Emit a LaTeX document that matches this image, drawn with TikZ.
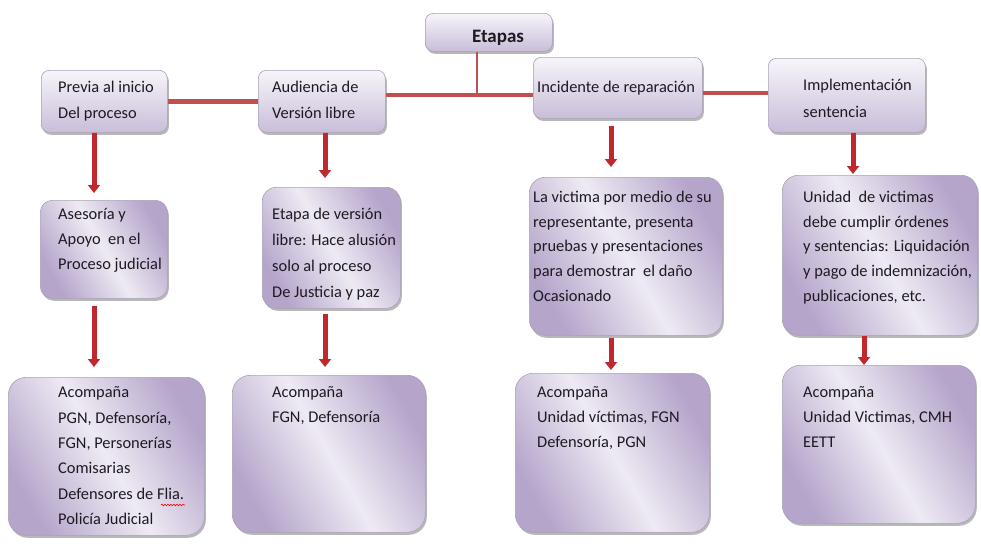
\documentclass[tikz,border=0pt]{standalone}
\usepackage{fontspec}
\setmainfont{Carlito}
\usetikzlibrary{shadows,arrows.meta,decorations.pathmorphing}
\definecolor{linkred}{HTML}{C0504D}
\definecolor{arrowred}{HTML}{C0282D}
\definecolor{lavtop}{HTML}{F7F5FA}
\definecolor{lavbot}{HTML}{C9BDD9}
\definecolor{lavdark}{HTML}{B5A5CB}
\definecolor{lavlight}{HTML}{EEEAF3}
\definecolor{boxline}{HTML}{A9A1B6}
\definecolor{ink}{HTML}{1E1A22}

\begin{document}
\begin{tikzpicture}[x=1pt,y=-1pt,
  box/.style={draw=boxline, line width=0.6pt, inner sep=0pt, anchor=north west,
    drop shadow={shadow xshift=1.5pt, shadow yshift=-2.5pt, fill=black, opacity=0.28}},
  stage/.style={box, rounded corners=8pt, top color=lavtop, bottom color=lavbot},
  detail/.style={box, rounded corners=16pt, left color=lavdark, right color=lavdark,
    middle color=lavlight, shading angle=120},
  txt/.style={anchor=north west, inner sep=0pt, align=left, yshift=18.2pt, text=ink,
    font=\fontsize{16.4}{#1}\selectfont},
  txt/.default=25.5,
  link/.style={draw=linkred, line width=4.5pt},
  thinlink/.style={draw=linkred, line width=2pt},
  arr/.style={draw=arrowred, line width=5pt, -{Triangle[width=12pt,length=8pt]}}
]
\useasboundingbox (0,0) rectangle (981,546);

% ---- stage boxes (top row) ----
\node[stage, minimum width=127pt, minimum height=38pt] (etapas) at (425,13) {};
\node[stage, minimum width=126pt, minimum height=62pt] (prev) at (41,70) {};
\node[stage, minimum width=127pt, minimum height=62pt] (aud) at (258,70) {};
\node[stage, minimum width=169pt, minimum height=61pt] (inc) at (533,57) {};
\node[stage, minimum width=157pt, minimum height=74pt] (impl) at (768,58) {};

% ---- description boxes ----
\node[detail, rounded corners=12pt, minimum width=127pt, minimum height=98pt] (ase) at (40,200) {};
\node[detail, rounded corners=14pt, minimum width=138pt, minimum height=121pt] (ver) at (262,187) {};
\node[detail, minimum width=193pt, minimum height=158pt] (vic) at (529,177) {};
\node[detail, minimum width=195pt, minimum height=160pt] (uni) at (782,175) {};

% ---- "Acompaña" boxes ----
\node[detail, rounded corners=18pt, minimum width=196pt, minimum height=158pt] (ac1) at (8,377) {};
\node[detail, rounded corners=18pt, minimum width=193pt, minimum height=157pt] (ac2) at (232,375) {};
\node[detail, rounded corners=18pt, minimum width=194pt, minimum height=159pt] (ac3) at (515,373) {};
\node[detail, rounded corners=18pt, minimum width=193pt, minimum height=158pt] (ac4) at (782,365) {};

% ---- texts ----
\node[anchor=base, inner sep=0pt, text=ink, font=\fontsize{19}{22}\selectfont\bfseries] (tet) at (498,42) {Etapas};
\node[txt=26] (t1) at (58,92) {\strut Previa al inicio\\Del proceso};
\node[txt=26] (t2) at (272,92) {\strut Audiencia de\\Versión libre};
\node[txt=26] (t3) at (537,92) {\strut Incidente de reparación};
\node[txt=27] (t4) at (803,90) {\strut Implementación\\sentencia};
\node[txt=25] (t5) at (58,220) {\strut Asesoría y\\Apoyo~ en el\\Proceso judicial};
\node[txt=25.7] (t6) at (272,220) {\strut Etapa de versión\\libre: Hace alusión\\solo al proceso\\De Justicia y paz};
\node[txt=24.75] (t7) at (533,203) {\strut La victima por medio de su\\representante, presenta\\pruebas y presentaciones\\para demostrar~ el daño\\Ocasionado};
\node[txt=24.75] (t8) at (803,203) {\strut Unidad~ de victimas\\debe cumplir órdenes\\y sentencias: Liquidación\\y pago de indemnización,\\publicaciones, etc.};
\node[txt=25.4] (t9) at (58,398) {\strut Acompaña\\PGN, Defensoría,\\FGN, Personerías\\Comisarias\\Defensores de Flia.\\Policía Judicial};
\node[txt=25] (t10) at (272,398) {\strut Acompaña\\FGN, Defensoría};
\node[txt=25] (t11) at (537,398) {\strut Acompaña\\Unidad víctimas, FGN\\Defensoría, PGN};
\node[txt=25] (t12) at (803,398) {\strut Acompaña\\Unidad Victimas, CMH\\EETT};

% spell-check mark under "Flia."
\draw[red, line width=0.6pt, decorate, decoration={snake, amplitude=0.8pt, segment length=3pt}]
  (161,505) -- (185,505);

% ---- horizontal bus between the stages ----
\coordinate (busA) at (0,95);
\coordinate (busB) at (0,93);
\coordinate (junc) at (477,95);
\path[link] (prev.east) -- (aud.west);
\path[link] (aud.east |- busA) -- (inc.west |- busA);
\path[link] (inc.east |- busB) -- (impl.west |- busB);
\path[thinlink] (etapas.south -| junc) -- (junc);

% ---- downward arrows ----
\coordinate (x1) at (94,0);
\coordinate (x2) at (325,0);
\coordinate (x3) at (611,0);
\coordinate (x4) at (853,0);
\coordinate (x5) at (864,0);
\draw[arr, shorten >=7pt] (prev.south -| x1) -- (ase.north -| x1);
\draw[arr, shorten >=9pt] (aud.south -| x2) -- (ver.north -| x2);
\draw[arr, shorten <=7pt, shorten >=10pt] (inc.south -| x3) -- (vic.north -| x3);
\draw[arr, shorten >=1pt] (impl.south -| x4) -- (uni.north -| x4);
\draw[arr, shorten <=7pt, shorten >=10pt] (ase.south -| x1) -- (ac1.north -| x1);
\draw[arr, shorten <=5pt, shorten >=8pt] (ver.south -| x2) -- (ac2.north -| x2);
\draw[arr, shorten <=2pt, shorten >=3pt] (vic.south -| x3) -- (ac3.north -| x3);
\draw[arr] (uni.south -| x5) -- (ac4.north -| x5);
\end{tikzpicture}
\end{document}
